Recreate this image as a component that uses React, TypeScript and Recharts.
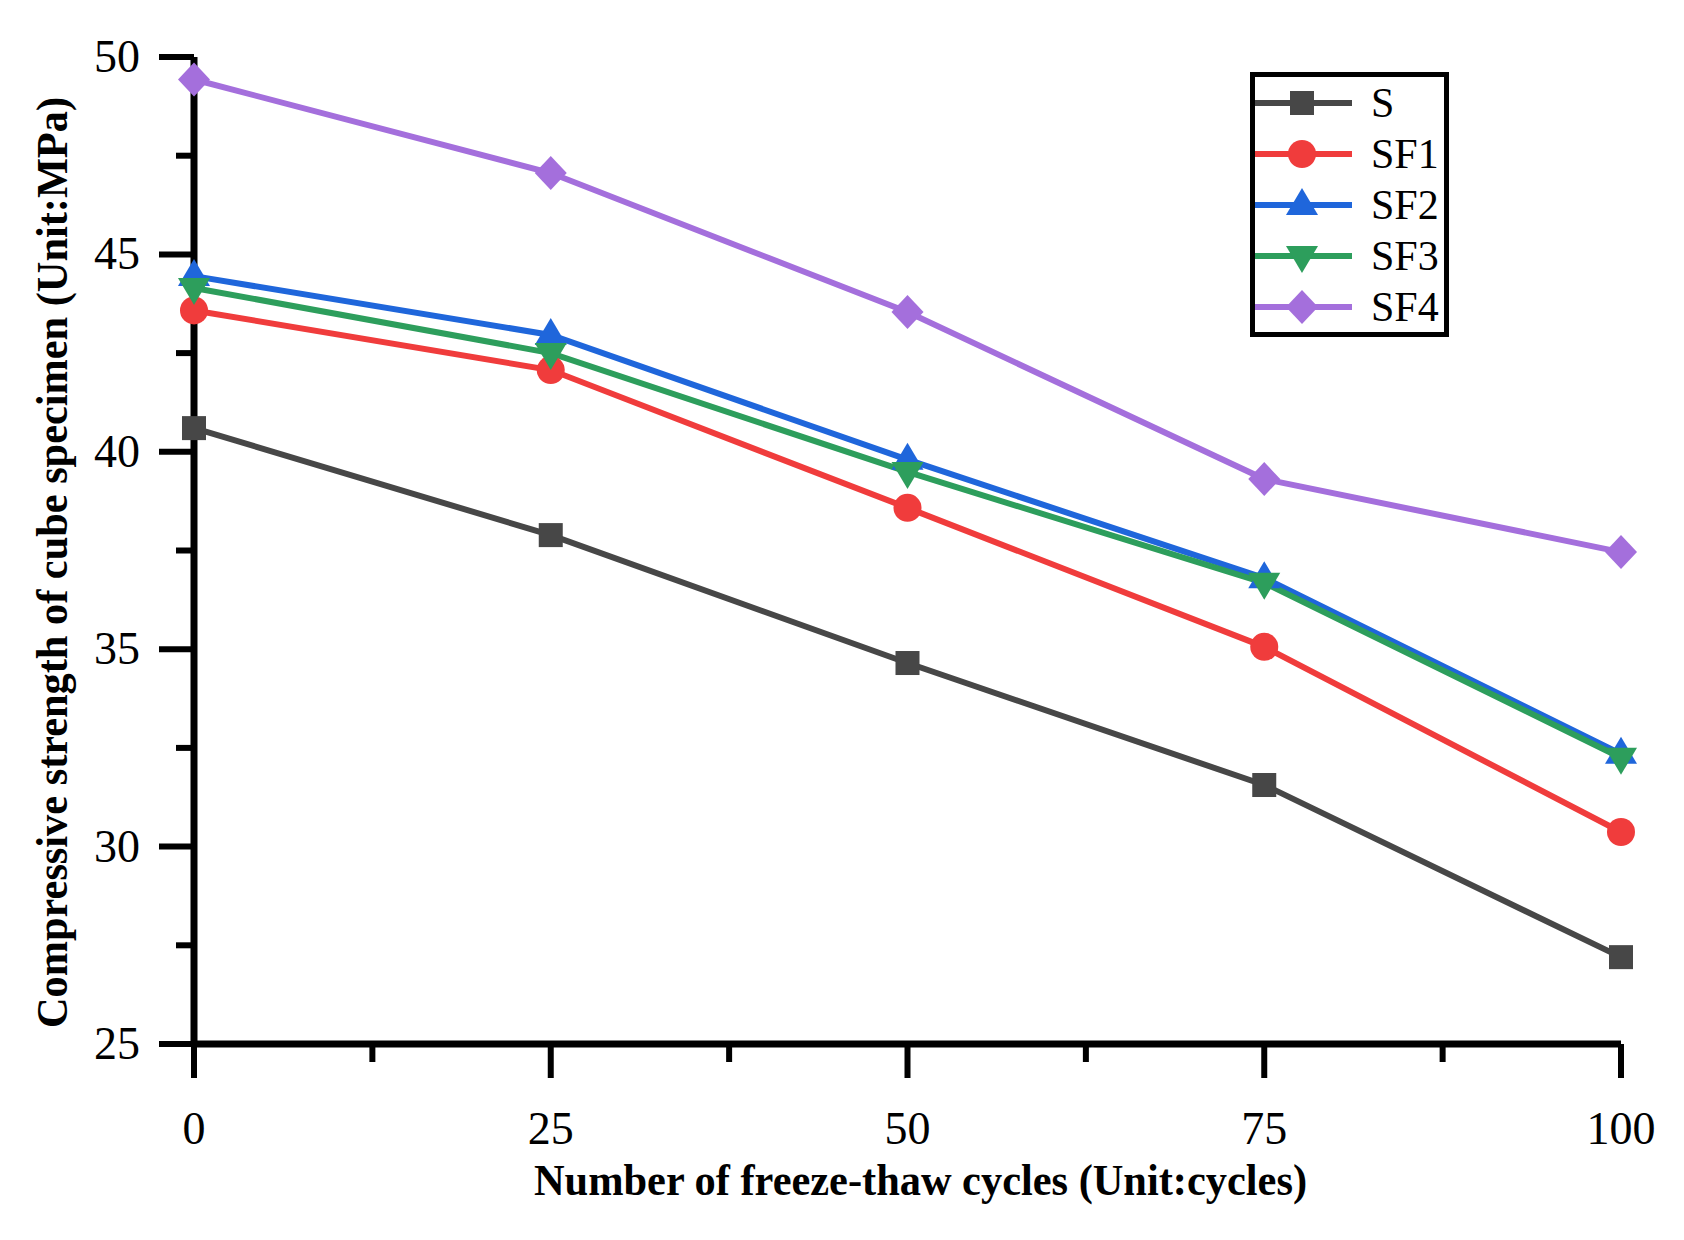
import { Legend, Line, LineChart, XAxis, YAxis } from 'recharts';

// freeze-thaw cycles vs. cube compressive strength (MPa)
const cycles = [0, 25, 50, 75, 100];
const sValues = [40.6, 37.89, 34.65, 31.56, 27.2];
const sf1Values = [43.58, 42.07, 38.58, 35.06, 30.37];
const sf2Values = [44.45, 42.96, 39.8, 36.8, 32.35];
const sf3Values = [44.15, 42.5, 39.49, 36.68, 32.25];
const sf4Values = [49.43, 47.06, 43.54, 39.31, 37.46];

const xTicks = [0, 12.5, 25, 37.5, 50, 62.5, 75, 87.5, 100];
const yTicks = [25, 27.5, 30, 32.5, 35, 37.5, 40, 42.5, 45, 47.5, 50];

const FONT = '"Liberation Serif", "Times New Roman", serif';

type Shape = 'square' | 'circle' | 'up' | 'down' | 'diamond';

const series: { key: string; name: string; color: string; shape: Shape; values: number[] }[] = [
  { key: 's', name: 'S', color: '#474747', shape: 'square', values: sValues },
  { key: 'sf1', name: 'SF1', color: '#f03c3c', shape: 'circle', values: sf1Values },
  { key: 'sf2', name: 'SF2', color: '#1f66db', shape: 'up', values: sf2Values },
  { key: 'sf3', name: 'SF3', color: '#2d9e5c', shape: 'down', values: sf3Values },
  { key: 'sf4', name: 'SF4', color: '#a46fdc', shape: 'diamond', values: sf4Values },
];

const data = cycles.map((c, i) => {
  const row: Record<string, number> = { cycles: c };
  series.forEach((s) => {
    row[s.key] = s.values[i];
  });
  return row;
});

function marker(shape: Shape, cx: number, cy: number, color: string, key?: string) {
  switch (shape) {
    case 'square':
      return <rect key={key} x={cx - 12} y={cy - 12} width={24} height={24} fill={color} />;
    case 'circle':
      return <circle key={key} cx={cx} cy={cy} r={14} fill={color} />;
    case 'up':
      return <polygon key={key} points={`${cx},${cy - 17} ${cx + 16},${cy + 10} ${cx - 16},${cy + 10}`} fill={color} />;
    case 'down':
      return <polygon key={key} points={`${cx},${cy + 17} ${cx + 16},${cy - 10} ${cx - 16},${cy - 10}`} fill={color} />;
    default:
      return <polygon key={key} points={`${cx},${cy - 17} ${cx + 16},${cy} ${cx},${cy + 17} ${cx - 16},${cy}`} fill={color} />;
  }
}

const XTick = (props: any) => {
  const { x, y, payload } = props;
  const major = payload.value % 25 === 0;
  return (
    <g>
      <line x1={x} x2={x} y1={y} y2={y + (major ? 34 : 18)} stroke="#000" strokeWidth={6} />
      {major && (
        <text x={x} y={y + 100} textAnchor="middle" fontFamily={FONT} fontSize={46} fill="#000">
          {payload.value}
        </text>
      )}
    </g>
  );
};

const YTick = (props: any) => {
  const { x, y, payload } = props;
  const major = payload.value % 5 === 0;
  return (
    <g>
      <line x1={x - (major ? 35 : 18)} x2={x} y1={y} y2={y} stroke="#000" strokeWidth={6} />
      {major && (
        <text x={x - 54} y={y + 15} textAnchor="end" fontFamily={FONT} fontSize={46} fill="#000">
          {payload.value}
        </text>
      )}
    </g>
  );
};

const XTitle = (props: any) => {
  const vb = props.viewBox;
  return (
    <text
      x={vb.x + vb.width / 2 + 13}
      y={vb.y + 151}
      textAnchor="middle"
      fontFamily={FONT}
      fontWeight="bold"
      fontSize={44}
      textLength={773}
      lengthAdjust="spacingAndGlyphs"
      fill="#000"
    >
      Number of freeze-thaw cycles (Unit:cycles)
    </text>
  );
};

const YTitle = (props: any) => {
  const vb = props.viewBox;
  const cx = vb.x + 52;
  const cy = vb.y + vb.height / 2 + 12;
  return (
    <text
      x={cx}
      y={cy}
      transform={`rotate(-90 ${cx} ${cy})`}
      textAnchor="middle"
      dominantBaseline="central"
      fontFamily={FONT}
      fontWeight="bold"
      fontSize={44}
      textLength={931}
      lengthAdjust="spacingAndGlyphs"
      fill="#000"
    >
      Compressive strength of cube specimen (Unit:MPa)
    </text>
  );
};

const LegendBox = () => (
  <div
    style={{
      border: '5px solid #000',
      width: 199,
      boxSizing: 'border-box',
      background: '#fff',
      fontFamily: FONT,
      fontSize: 42,
      color: '#000',
    }}
  >
    {series.map((s) => (
      <div key={s.key} style={{ display: 'flex', alignItems: 'center', height: 51 }}>
        <svg width={97} height={40} style={{ display: 'block' }}>
          <line x1={0} x2={97} y1={20} y2={20} stroke={s.color} strokeWidth={6} />
          {marker(s.shape, 47, 20, s.color)}
        </svg>
        <span style={{ marginLeft: 19, lineHeight: 1 }}>{s.name}</span>
      </div>
    ))}
  </div>
);

export default function App() {
  return (
    <div style={{ position: 'absolute', left: 0, top: 0, background: '#fff' }}>
      <LineChart width={1684} height={1240} data={data} margin={{ top: 57, right: 63, bottom: 0, left: 0 }}>
        <XAxis
          dataKey="cycles"
          type="number"
          domain={[0, 100]}
          ticks={xTicks}
          interval={0}
          height={196}
          tickSize={0}
          tickMargin={0}
          tickLine={false}
          tick={<XTick />}
          axisLine={{ stroke: '#000', strokeWidth: 7 }}
          label={{ content: <XTitle /> }}
        />
        <YAxis
          type="number"
          domain={[25, 50]}
          ticks={yTicks}
          interval={0}
          width={194}
          tickSize={0}
          tickMargin={0}
          tickLine={false}
          tick={<YTick />}
          axisLine={{ stroke: '#000', strokeWidth: 7 }}
          label={{ content: <YTitle /> }}
        />
        {series.map((s) => (
          <Line
            key={s.key}
            dataKey={s.key}
            name={s.name}
            type="linear"
            stroke={s.color}
            strokeWidth={6}
            dot={(p: any) => marker(s.shape, p.cx, p.cy, s.color, `${s.key}-${p.index}`)}
            activeDot={false}
            isAnimationActive={false}
          />
        ))}
        <Legend
          layout="vertical"
          align="center"
          verticalAlign="middle"
          content={<LegendBox />}
          wrapperStyle={{ left: 1250, top: 72, width: 199, height: 'auto' }}
        />
      </LineChart>
    </div>
  );
}
